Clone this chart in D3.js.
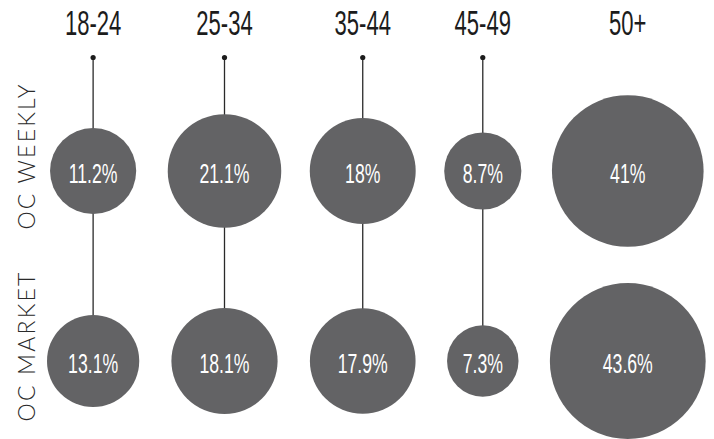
<!DOCTYPE html>
<html>
<head>
<meta charset="utf-8">
<script src="https://cdn.jsdelivr.net/npm/d3@7"></script>
<style>
  html, body { margin: 0; padding: 0; background: #fff; }
  svg { display: block; }
</style>
</head>
<body>
<svg id="chart" width="714" height="439"></svg>
<script>
// ---- data ----
const categories = ["18-24", "25-34", "35-44", "45-49", "50+"];
const seriesNames = ["OC WEEKLY", "OC MARKET"];
const ocWeekly = [11.2, 21.1, 18, 8.7, 41];
const ocMarket = [13.1, 18.1, 17.9, 7.3, 43.6];
const valueLabels = [
  ["11.2%", "21.1%", "18%", "8.7%", "41%"],
  ["13.1%", "18.1%", "17.9%", "7.3%", "43.6%"]
];
const connected = [true, true, true, true, false];

// ---- layout ----
const svg = d3.select("#chart");
const series = [ocWeekly, ocMarket];

const rScale = d3.scalePow().exponent(0.436).domain([0, 43.6]).range([0, 77.9]);
const yScale = d3.scalePoint().domain(seriesNames).range([171, 361]);

// column x positions: circles packed with a constant gap
const gap = 28.5;
const maxR = categories.map((c, i) => Math.max(rScale(ocWeekly[i]), rScale(ocMarket[i])));
const xs = [];
let cursor = 47;
maxR.forEach((r, i) => {
  if (i > 0) cursor += gap;
  xs.push(cursor + r);
  cursor += 2 * r;
});
const xScale = d3.scaleOrdinal().domain(categories).range(xs);

const headerY = 35;
const dotY = 57.5;

const condensed = "'Liberation Sans', Arial, sans-serif";

// headers
svg.append("g").selectAll("text").data(categories).join("text")
  .attr("transform", d => `translate(${xScale(d)},${headerY}) scale(0.63,1)`)
  .attr("text-anchor", "middle")
  .attr("font-family", condensed)
  .attr("font-size", 35)
  .attr("fill", "#1c1c1c")
  .text(d => d);

// connector lines
const conn = categories.filter((c, i) => connected[i]);
svg.append("g").selectAll("line").data(conn).join("line")
  .attr("x1", d => xScale(d)).attr("x2", d => xScale(d))
  .attr("y1", dotY).attr("y2", yScale(seriesNames[1]))
  .attr("stroke", "#2a2a2a").attr("stroke-width", 1.3);

svg.append("g").selectAll("circle").data(conn).join("circle")
  .attr("cx", d => xScale(d)).attr("cy", dotY).attr("r", 2.6)
  .attr("fill", "#1c1c1c");

// bubbles
series.forEach((vals, si) => {
  const g = svg.append("g");
  const cy = yScale(seriesNames[si]);
  g.selectAll("circle").data(vals).join("circle")
    .attr("cx", (d, i) => xScale(categories[i]))
    .attr("cy", cy)
    .attr("r", d => rScale(d))
    .attr("fill", "#636365");
  g.selectAll("text").data(vals).join("text")
    .attr("transform", (d, i) => `translate(${xScale(categories[i])},${cy + 11.8}) scale(0.63,1)`)
    .attr("text-anchor", "middle")
    .attr("font-family", condensed)
    .attr("font-size", 28)
    .attr("fill", "#ffffff")
    .text((d, i) => valueLabels[si][i]);
});

// row labels
svg.append("g").selectAll("text").data(seriesNames).join("text")
  .attr("transform", d => `translate(34.5,${yScale(d) - 15}) rotate(-90)`)
  .attr("text-anchor", "middle")
  .attr("font-family", "Lato, 'Open Sans', sans-serif")
  .attr("font-weight", 300)
  .attr("font-size", 23)
  .attr("letter-spacing", 2.2)
  .attr("fill", "#2a2a2a")
  .text(d => d);
</script>
</body>
</html>
